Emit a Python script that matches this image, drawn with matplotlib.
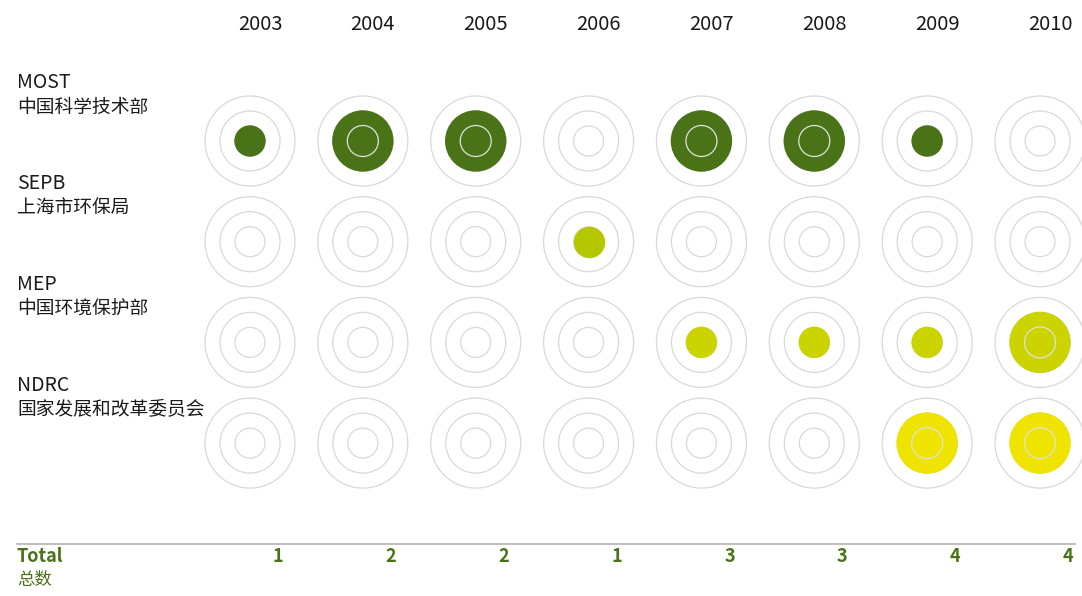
import matplotlib.pyplot as plt
import numpy as np

plt.rcParams['font.family'] = ['Noto Sans CJK SC', 'DejaVu Sans']

# Data
years = [2003, 2004, 2005, 2006, 2007, 2008, 2009, 2010]
orgs_en = ["MOST", "SEPB", "MEP", "NDRC"]
orgs_zh = ["中国科学技术部", "上海市环保局", "中国环境保护部", "国家发展和改革委员会"]
most = [1, 2, 2, 0, 2, 2, 1, 0]
sepb = [0, 0, 0, 1, 0, 0, 0, 0]
mep = [0, 0, 0, 0, 1, 1, 1, 2]
ndrc = [0, 0, 0, 0, 0, 0, 2, 2]
colors = ["#4a7318", "#b5c700", "#cbd300", "#eee400"]
totals = [1, 2, 2, 1, 3, 3, 4, 4]

values = [most, sepb, mep, ndrc]

W, H, DPI = 1082, 596, 100
fig = plt.figure(figsize=(W / DPI, H / DPI), dpi=DPI)
ax = fig.add_axes([0, 0, 1, 1])
ax.axis("off")

# map: column unit = 112.86 px, row unit = 100.7 px
cw, rh = 112.86, 100.7
x0, y0 = 250, 141
ax.set_xlim(-x0 / cw, (W - x0) / cw)
ax.set_ylim((H - y0) / rh, -y0 / rh)
lx = -x0 / cw + 17 / cw


def s_of(r_px):
    # scatter size (pt^2) for a circle of radius r_px pixels
    return (2 * r_px * 72 / DPI) ** 2


ring_col = "#d9d9d9"
xs = np.arange(len(years))
for j, row in enumerate(values):
    ys = np.full(len(years), j)
    for r in (45, 30, 15):
        ax.scatter(xs, ys, s=s_of(r), facecolors="none", edgecolors=ring_col,
                   linewidths=0.9, zorder=1)
    row = np.array(row)
    m = row > 0
    if m.any():
        radii = 15.7 + 15 * (row[m] - 1)
        ax.scatter(xs[m], ys[m], s=s_of(radii), color=colors[j],
                   linewidths=0, zorder=2)
    big = row == 2
    if big.any():
        ax.scatter(xs[big], ys[big], s=s_of(15.5), facecolors="none",
                   edgecolors="#e0e0e0", linewidths=0.9, zorder=3)

    # row labels
    ax.text(lx, j - 58 / rh, orgs_en[j], fontsize=14,
            color="#1a1a1a", va="center", ha="left")
    ax.text(lx, j - 34 / rh, orgs_zh[j], fontsize=13.5,
            color="#1a1a1a", va="center", ha="left")

# year labels
for i, y in enumerate(years):
    ax.text(i + 10 / cw, -y0 / rh + 24 / rh, str(y), fontsize=14.5,
            color="#1a1a1a", ha="center", va="center")

# total row
green = "#4a7318"
ax.plot([lx, (1075 - x0) / cw], [(544 - y0) / rh] * 2,
        color="#b3b3b3", lw=1.2)
ax.text(lx, (556 - y0) / rh, "Total", fontsize=13,
        fontweight="bold", color=green, va="center", ha="left")
ax.text(lx, (580 - y0) / rh, "总数", fontsize=12.5,
        color=green, va="center", ha="left")
for i, t in enumerate(totals):
    ax.text(i + 28 / cw, (556 - y0) / rh, str(t), fontsize=13,
            fontweight="bold", color=green, ha="center", va="center")

fig.savefig("out.png", dpi=DPI)
